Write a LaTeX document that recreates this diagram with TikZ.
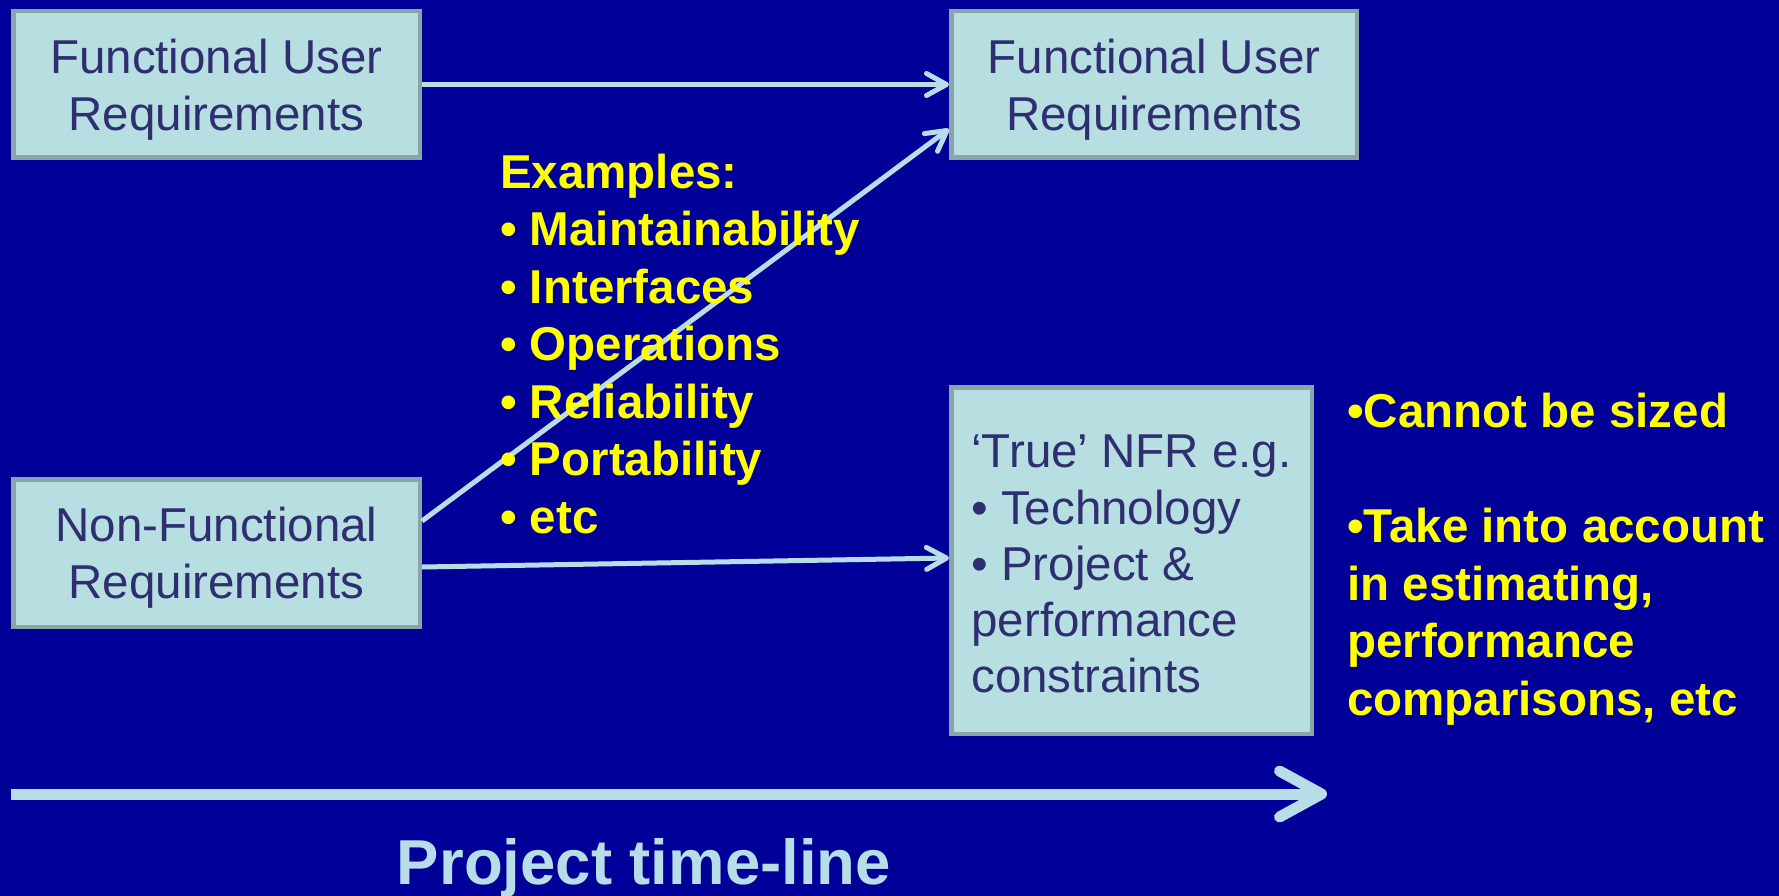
\documentclass[tikz,border=0pt]{standalone}
\usepackage{fontspec}
\setmainfont{Liberation Sans}
\usetikzlibrary{arrows.meta}
\definecolor{slidebg}{HTML}{000099}
\definecolor{boxfill}{HTML}{B7DEE0}
\definecolor{boxedge}{HTML}{8AA5A8}
\definecolor{boxtext}{HTML}{2E2E70}
\definecolor{linkcol}{HTML}{B7DEE8}
\definecolor{notecol}{HTML}{FFFF00}
% raises the first line of a box so its text sits a little lower
\newcommand\firstlinelift[1][44pt]{\rule{0pt}{#1}}
\begin{document}
\begin{tikzpicture}[x=1pt,y=-1pt,
  reqbox/.style={draw=boxedge, line width=4.5pt, fill=boxfill, text=boxtext,
    font=\fontsize{47.5}{57}\selectfont, inner sep=0pt, align=center},
  link/.style={draw=linkcol, line width=5pt,
    -{Straight Barb[length=20pt,width=22pt,round]}},
  note/.style={text=notecol, font=\bfseries\fontsize{47.5}{57.5}\selectfont,
    align=left, inner sep=0pt},
]
% slide background
\fill[slidebg] (0,0) rectangle (1779,896);
\useasboundingbox (0,0) rectangle (1779,896);

% requirement boxes
\node[reqbox, minimum width=406.5pt, minimum height=146.5pt] (fur1) at (216.5,84.5)
  {\firstlinelift Functional User\\Requirements};
\node[reqbox, minimum width=405.5pt, minimum height=146.5pt] (fur2) at (1154,84.5)
  {\firstlinelift Functional User\\Requirements};
\node[reqbox, minimum width=406.5pt, minimum height=147.5pt] (nfr) at (216.5,553)
  {\firstlinelift Non-Functional\\Requirements};
\node[reqbox, align=left, font=\fontsize{47.5}{56.2}\selectfont,
  minimum width=360.5pt, minimum height=346.5pt] (tnfr) at (1131.5,560.5)
  {\firstlinelift[40pt]‘True’ NFR e.g.\\• Technology\\• Project \&\\performance\\constraints};

% connectors
\draw[link] (fur1.east) -- (fur2.west);
\draw[link] ([yshift=32pt]nfr.east) -- ([yshift=-44.5pt]fur2.west);
\draw[link] ([yshift=-14pt]nfr.east) -- ([yshift=2.5pt]tnfr.west);

% notes
\node[note, anchor=west] (examples) at (500,344)
  {Examples:\\• Maintainability\\• Interfaces\\• Operations\\• Reliability\\• Portability\\• etc};
\node[note, anchor=west] (remarks) at (1347,559)
  {•Cannot be sized\\[57.5pt]•Take into account\\in estimating,\\performance\\comparisons, etc};

% project time-line
\coordinate (tlstart) at (11,794);
\coordinate (tlend) at (1327,794);
\draw[draw=linkcol, line width=11pt,
  -{Straight Barb[length=42pt,width=46pt,round]}] (tlstart) -- (tlend);
\node[text=linkcol, font=\bfseries\fontsize{63.5}{70}\selectfont, anchor=base, inner sep=0pt]
  (tltitle) at (644,884) {Project time-line};
\end{tikzpicture}
\end{document}
